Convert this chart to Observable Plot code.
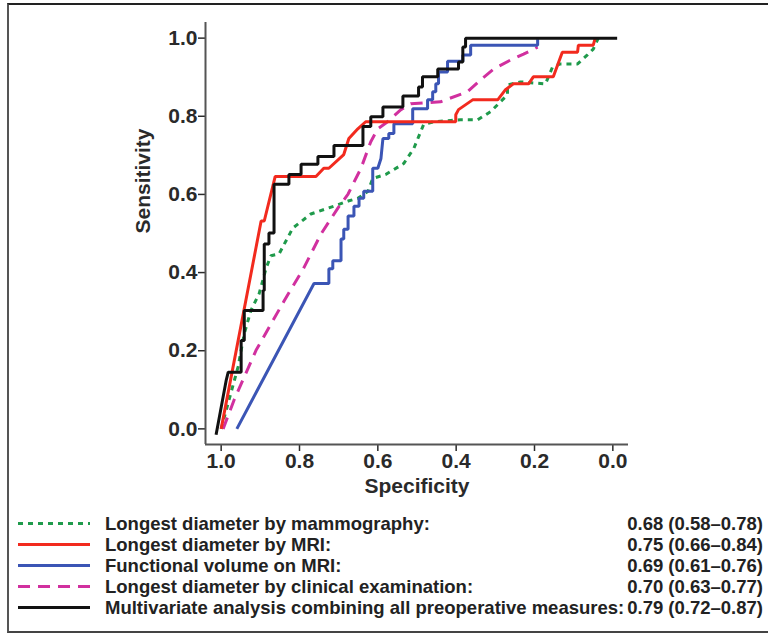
<!DOCTYPE html>
<html>
<head>
<meta charset="utf-8">
<script src="https://cdn.jsdelivr.net/npm/d3@7"></script>
<script src="https://cdn.jsdelivr.net/npm/@observablehq/plot@0.6"></script>
<style>
  body { margin: 0; background: #fff; }
  #wrap { position: relative; width: 768px; height: 635px; overflow: hidden;
          font-family: "Liberation Sans", Arial, sans-serif; font-weight: bold; color: #222; }
  #frame { position: absolute; left: 7px; top: 3px; width: 800px; height: 630px; box-sizing: border-box;
           border-left: 2px solid #555; border-top: 2px solid #222; border-bottom: 2px solid #444; }
  #chart { position: absolute; left: 0; top: 0; }
  .row { position: absolute; left: 0; width: 768px; height: 21px; line-height: 21px; font-size: 18.5px; white-space: nowrap; }
  .row svg { position: absolute; left: 18px; top: 0; }
  .row .lab { position: absolute; left: 105px; top: 0; }
  .row .val { position: absolute; right: 5px; top: 0; }
</style>
</head>
<body>
<div id="wrap">
  <div id="chart"></div>
  <div id="legend"></div>
  <div id="frame"></div>
</div>
<script>
// ---- data: [specificity, sensitivity] ----
const mammography = [
  [1.0,0.0],[0.980,0.074],[0.957,0.158],[0.941,0.244],[0.924,0.303],[0.903,0.346],[0.885,0.412],
  [0.873,0.443],[0.852,0.448],[0.817,0.514],[0.771,0.550],[0.712,0.570],[0.676,0.583],[0.651,0.590],
  [0.625,0.608],[0.613,0.641],[0.580,0.651],[0.534,0.679],[0.508,0.718],[0.483,0.779],[0.457,0.786],
  [0.389,0.791],[0.345,0.791],[0.312,0.812],[0.287,0.837],[0.269,0.855],[0.269,0.880],[0.236,0.888],
  [0.172,0.883],[0.154,0.926],[0.134,0.934],[0.090,0.934],[0.065,0.957],[0.050,0.972],[0.037,1.0]
];
const mriDiameter = [
  [1.0,0.0],[0.898,0.532],[0.890,0.532],[0.862,0.646],[0.758,0.646],[0.738,0.667],[0.725,0.667],
  [0.687,0.702],[0.674,0.743],[0.651,0.768],[0.631,0.786],[0.401,0.786],[0.401,0.804],[0.394,0.817],
  [0.358,0.842],[0.294,0.842],[0.274,0.868],[0.254,0.883],[0.215,0.883],[0.203,0.901],[0.152,0.901],
  [0.141,0.931],[0.129,0.964],[0.090,0.964],[0.088,0.982],[0.050,0.982],[0.045,1.0]
];
const functionalVolume = [
  [0.960,0.0],[0.763,0.372],[0.725,0.372],[0.725,0.410],[0.715,0.410],[0.715,0.430],[0.694,0.430],
  [0.694,0.486],[0.687,0.486],[0.687,0.511],[0.676,0.511],[0.676,0.545],[0.661,0.545],[0.661,0.570],
  [0.648,0.570],[0.648,0.590],[0.636,0.590],[0.636,0.608],[0.613,0.608],[0.613,0.667],[0.600,0.667],
  [0.592,0.692],[0.587,0.743],[0.572,0.743],[0.572,0.756],[0.559,0.756],[0.559,0.781],[0.511,0.781],
  [0.511,0.819],[0.473,0.819],[0.473,0.842],[0.460,0.842],[0.460,0.863],[0.452,0.863],[0.452,0.883],
  [0.445,0.883],[0.445,0.913],[0.422,0.913],[0.422,0.941],[0.383,0.941],[0.383,0.957],[0.363,0.957],
  [0.363,0.982],[0.192,0.982],[0.192,0.997]
];
const clinical = [
  [0.995,0.0],[0.967,0.074],[0.911,0.201],[0.839,0.328],[0.789,0.412],[0.745,0.499],[0.702,0.565],
  [0.676,0.601],[0.643,0.667],[0.618,0.735],[0.600,0.768],[0.575,0.786],[0.541,0.817],[0.516,0.832],
  [0.440,0.837],[0.371,0.863],[0.338,0.893],[0.304,0.921],[0.261,0.944],[0.228,0.959],[0.192,0.977]
];
const multivariate = [
  [1.013,-0.015],[0.987,0.125],[0.982,0.145],[0.949,0.145],[0.949,0.226],[0.941,0.226],[0.941,0.303],
  [0.893,0.303],[0.893,0.354],[0.890,0.354],[0.890,0.473],[0.878,0.473],[0.878,0.501],[0.865,0.501],
  [0.865,0.626],[0.827,0.626],[0.827,0.651],[0.796,0.651],[0.796,0.677],[0.753,0.677],[0.753,0.697],
  [0.712,0.697],[0.712,0.725],[0.638,0.725],[0.638,0.774],[0.618,0.774],[0.618,0.799],[0.587,0.799],
  [0.587,0.824],[0.536,0.824],[0.536,0.852],[0.496,0.852],[0.496,0.875],[0.486,0.875],[0.486,0.901],
  [0.447,0.901],[0.447,0.921],[0.394,0.921],[0.394,0.939],[0.383,0.939],[0.383,0.977],[0.376,0.977],
  [0.376,1.0],[-0.011,1.0]
];
const seriesLabels = [
  "Longest diameter by mammography:",
  "Longest diameter by MRI:",
  "Functional volume on MRI:",
  "Longest diameter by clinical examination:",
  "Multivariate analysis combining all preoperative measures:"
];
const aucLabels = [
  "0.68 (0.58\u20130.78)",
  "0.75 (0.66\u20130.84)",
  "0.69 (0.61\u20130.76)",
  "0.70 (0.63\u20130.77)",
  "0.79 (0.72\u20130.87)"
];
const tickValues = [1.0, 0.8, 0.6, 0.4, 0.2, 0.0];
const xTitle = "Specificity";
const yTitle = "Sensitivity";

// ---- styles ----
const seriesData = [mammography, mriDiameter, functionalVolume, clinical, multivariate];
const colors = ["#1f9a4b", "#f22a1e", "#3b55b5", "#d1309f", "#111111"];
const dashes = ["5,5", null, null, "12,8", null];
const drawOrder = [0, 3, 2, 1, 4];

const xDomain = [1.04, -0.04];
const yDomain = [-0.04, 1.04];

const lineMarks = drawOrder.map(i => Plot.line(seriesData[i], {
  x: d => d[0], y: d => d[1],
  stroke: colors[i], strokeWidth: 3, strokeDasharray: dashes[i],
  strokeLinejoin: "miter", strokeLinecap: "butt"
}));

const chart = Plot.plot({
  width: 768, height: 500,
  marginLeft: 205, marginRight: 140, marginTop: 22, marginBottom: 56,
  style: { background: "transparent", fontFamily: "Liberation Sans, Arial, sans-serif", fontWeight: "bold", fontSize: "21px", color: "#2a2a2a", overflow: "visible" },
  x: { domain: xDomain, label: null },
  y: { domain: yDomain, label: null },
  marks: [
    Plot.axisX(tickValues, { tickSize: 7, tickPadding: 2, tickFormat: d3.format(".1f"), fontSize: 21, fontWeight: "bold", color: "#2a2a2a", strokeWidth: 1.5, label: null }),
    Plot.axisY(tickValues, { tickSize: 7, tickPadding: 1, tickFormat: d3.format(".1f"), fontSize: 21, fontWeight: "bold", color: "#2a2a2a", strokeWidth: 1.5, label: null }),
    Plot.ruleY([yDomain[0]], { stroke: "#555", strokeWidth: 2 }),
    Plot.ruleX([xDomain[0]], { stroke: "#555", strokeWidth: 2 }),
    ...lineMarks,
    Plot.text([xTitle], { text: d => d, frameAnchor: "bottom", dy: 42, lineAnchor: "middle", fontSize: 21, fontWeight: "bold", fill: "#2a2a2a" }),
    Plot.text([yTitle], { text: d => d, frameAnchor: "left", dx: -62, rotate: -90, lineAnchor: "middle", fontSize: 21, fontWeight: "bold", fill: "#2a2a2a" })
  ]
});
document.getElementById("chart").appendChild(chart);

// ---- legend ----
const legend = document.getElementById("legend");
const rowTop0 = 512.5, rowStep = 21;
seriesLabels.forEach((lab, i) => {
  const row = document.createElement("div");
  row.className = "row";
  row.style.top = (rowTop0 + i * rowStep) + "px";
  const ns = "http://www.w3.org/2000/svg";
  const svg = document.createElementNS(ns, "svg");
  svg.setAttribute("width", 74); svg.setAttribute("height", 21);
  const ln = document.createElementNS(ns, "line");
  ln.setAttribute("x1", 0); ln.setAttribute("x2", 72);
  ln.setAttribute("y1", 10.5); ln.setAttribute("y2", 10.5);
  ln.setAttribute("stroke", colors[i]); ln.setAttribute("stroke-width", 3);
  if (dashes[i]) ln.setAttribute("stroke-dasharray", dashes[i]);
  svg.appendChild(ln);
  row.appendChild(svg);
  const t = document.createElement("span"); t.className = "lab"; t.textContent = lab; row.appendChild(t);
  const v = document.createElement("span"); v.className = "val"; v.textContent = aucLabels[i]; row.appendChild(v);
  legend.appendChild(row);
});
</script>
</body>
</html>
